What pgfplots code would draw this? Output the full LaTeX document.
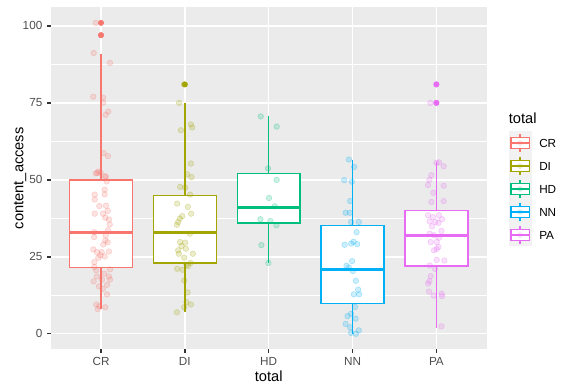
\documentclass[border=0pt]{standalone}
\usepackage{pgfplots}
\pgfplotsset{compat=1.18}
\usepackage{fontspec}
\setmainfont{Liberation Sans}
\definecolor{cCR}{HTML}{F8766D}
\definecolor{cDI}{HTML}{A3A500}
\definecolor{cHD}{HTML}{00BF7D}
\definecolor{cNN}{HTML}{00B0F6}
\definecolor{cPA}{HTML}{E76BF3}
\definecolor{panelbg}{HTML}{EBEBEB}
\definecolor{keybg}{HTML}{F2F2F2}
\definecolor{tickgray}{HTML}{4D4D4D}
\definecolor{tickmark}{HTML}{333333}
\pgfplotsset{
  jit/.style={only marks, mark=*, mark size=2.1pt, forget plot,
    mark options={fill=#1, fill opacity=0.2, draw=#1, draw opacity=0.3, line width=0.4pt}},
  bx/.style={draw=#1, fill=white, line width=1.07pt, forget plot},
  wh/.style={draw=#1, line width=1.07pt, forget plot},
  md/.style={draw=#1, line width=2.13pt, forget plot},
  outl/.style={only marks, mark=*, mark size=2pt, forget plot, mark options={fill=#1, draw=#1}},
}
\begin{document}
\begin{tikzpicture}[x=0.75pt, y=0.75pt]
\path[use as bounding box] (0,0) rectangle (571,392);
\begin{axis}[
  at={(38.025pt,32.025pt)}, anchor=south west, scale only axis,
  width=327pt, height=256.5pt,
  xmin=0.4, xmax=5.6, ymin=-5.05, ymax=106.05,
  axis background/.style={fill=panelbg},
  axis line style={draw=none},
  xtick={1,2,3,4,5}, xticklabels={CR,DI,HD,NN,PA},
  ytick={0,25,50,75,100}, minor ytick={12.5,37.5,62.5,87.5},
  grid=both,
  major grid style={white, line width=1.07pt},
  minor grid style={white, line width=0.53pt},
  tick align=outside, major tick length=2.75pt, minor tick length=0pt,
  tick style={tickmark, line width=1.07pt},
  tick pos=left,
  ticklabel style={font=\fontsize{8.8}{10}\selectfont, text=tickgray},
  /pgf/number format/assume math mode=true,
]
% ---- boxplots ----
% CR
\addplot[wh=cCR] coordinates {(1,8) (1,21.5)};
\addplot[wh=cCR] coordinates {(1,50) (1,91)};
\addplot[bx=cCR] coordinates {(0.625,21.5) (1.375,21.5) (1.375,50) (0.625,50)} -- cycle;
\addplot[md=cCR] coordinates {(0.625,33) (1.375,33)};
\addplot[outl=cCR] coordinates {(1,101) (1,97)};
% DI
\addplot[wh=cDI] coordinates {(2,7) (2,23)};
\addplot[wh=cDI] coordinates {(2,45) (2,75)};
\addplot[bx=cDI] coordinates {(1.625,23) (2.375,23) (2.375,45) (1.625,45)} -- cycle;
\addplot[md=cDI] coordinates {(1.625,33) (2.375,33)};
\addplot[outl=cDI] coordinates {(2,81)};
% HD
\addplot[wh=cHD] coordinates {(3,23) (3,36)};
\addplot[wh=cHD] coordinates {(3,52) (3,70.7)};
\addplot[bx=cHD] coordinates {(2.625,36) (3.375,36) (3.375,52) (2.625,52)} -- cycle;
\addplot[md=cHD] coordinates {(2.625,41) (3.375,41)};
% NN
\addplot[wh=cNN] coordinates {(4,0) (4,9.75)};
\addplot[wh=cNN] coordinates {(4,35.2) (4,56.6)};
\addplot[bx=cNN] coordinates {(3.625,9.75) (4.375,9.75) (4.375,35.2) (3.625,35.2)} -- cycle;
\addplot[md=cNN] coordinates {(3.625,21) (4.375,21)};
% PA
\addplot[wh=cPA] coordinates {(5,2) (5,22)};
\addplot[wh=cPA] coordinates {(5,40) (5,55.8)};
\addplot[bx=cPA] coordinates {(4.625,22) (5.375,22) (5.375,40) (4.625,40)} -- cycle;
\addplot[md=cPA] coordinates {(4.625,32) (5.375,32)};
\addplot[outl=cPA] coordinates {(5,81) (5,75)};
% ---- jittered points ----
\addplot[jit=cCR] coordinates {
(0.937,101) (1.0,97) (0.913,91.2) (1.107,88) (0.908,77) (1.024,76.7) (1.027,75.1)
(1.087,72.2) (1.056,71.1) (1.032,58.7) (1.083,57.7) (0.968,52.7) (0.937,52.1)
(0.996,52.3) (1.051,51.2) (0.956,52.2) (1.056,50.9) (1.068,49.5) (0.925,45.2)
(0.925,43.6) (1.044,45.3) (1.044,46.8) (0.980,41.5) (1.060,41.6) (0.925,39)
(1.024,39) (1.080,39.9) (1.095,37.1) (1.051,37.7) (1.104,35.5) (1.083,33.6)
(0.920,33) (0.917,31.4) (1.056,31.9) (1.051,30.3) (1.080,29.7) (1.027,29)
(1.095,26.7) (0.908,27.4) (0.952,26.5) (1.008,26.5) (0.992,25.5) (1.044,25.1)
(0.968,24.7) (0.920,23.3) (0.920,21.7) (0.944,20.6) (1.107,20.9) (1.039,19.5)
(0.952,18.6) (1.095,18.6) (1.107,17.6) (0.913,17) (1.012,17.6) (0.976,15.4)
(1.072,15.9) (1.020,14.6) (1.072,12.8) (0.944,9.5) (1.051,8.6) (0.961,8) (0.980,8.9)
};
\addplot[jit=cDI] coordinates {
(1.99,81) (1.932,75) (2.072,68) (1.952,66.1) (2.087,67) (2.072,55.3) (2.027,51.8)
(2.080,50.9) (1.944,47.7) (2.004,47.5) (2.063,45.2) (1.908,42.3) (2.036,41.2)
(2.075,39) (1.968,38.2) (1.940,37.4) (1.920,36.3) (1.905,35.4) (2.060,32.5)
(1.944,29.8) (2.004,29.6) (1.961,28.5) (1.920,27.1) (2.012,27.6) (2.095,26)
(1.928,26) (1.992,24.7) (2.068,23) (2.020,22.4) (1.908,21.1) (1.973,20.8)
(2.039,22) (1.992,17.3) (2.032,13.4) (2.020,10.3) (2.072,9.5) (1.992,8.6) (1.905,7)
};
\addplot[jit=cHD] coordinates {
(2.905,70.6) (3.095,67.3) (2.992,53.7) (3.095,50) (3.004,44.1) (3.072,41.4)
(2.901,37.2) (3.020,36.6) (3.092,35.2) (2.913,28.8) (2.996,23)
};
\addplot[jit=cNN] coordinates {
(3.956,56.6) (4.019,54.2) (3.900,49.9) (3.992,49.4) (3.971,43.1) (3.917,39.3)
(3.968,39.3) (3.983,36.3) (4.075,36.3) (4.048,33) (3.905,28.9) (3.983,29.3)
(4.012,29.9) (4.055,29.1) (3.995,23.6) (3.928,22.1) (3.956,21.5) (4.004,20.4)
(4.039,17.2) (4.067,14.3) (4.016,12.8) (4.079,12.8) (4.031,8.7) (3.983,6.5)
(3.940,5.7) (4.036,4.9) (3.917,3.2) (3.971,2.1) (4.075,1.1) (3.983,0.3) (4.039,0)
};
\addplot[jit=cPA] coordinates {
(5.0,81) (4.928,75) (5.0,75) (5.000,55.5) (5.031,55.7) (5.087,54.4) (4.940,51.5)
(4.917,50) (4.900,48.3) (5.087,48.1) (4.964,45.8) (4.940,42.8) (5.087,43.1)
(4.900,38.5) (4.959,37.9) (5.031,38.5) (5.067,37.2) (4.920,36.5) (4.988,36.3)
(5.024,36) (4.948,34.9) (5.060,33.4) (4.920,32.5) (4.971,32) (5.031,31.2)
(4.932,29.8) (5.004,29.8) (5.024,28.2) (4.971,27.1) (5.004,27.5) (4.920,22.2)
(5.004,24) (5.095,23.8) (4.983,21.1) (4.932,18.7) (4.917,17.1) (4.900,16.3)
(4.912,13.7) (4.968,12.4) (5.063,13) (5.067,12.2) (5.060,2.4)
};
\end{axis}
% axis titles
\node[anchor=base, font=\fontsize{11}{13}\selectfont] at (268.7,{392-381.5}) {total};
\node[rotate=90, anchor=base, font=\fontsize{11}{13}\selectfont] at (23.3,{392-178.3}) {content\_access};
% legend
\node[anchor=west, inner sep=0pt, font=\fontsize{11}{13}\selectfont] at (508.6,{392-118}) {total};
\foreach \nm/\cl/\cy in {CR/cCR/143, DI/cDI/166, HD/cHD/189, NN/cNN/212, PA/cPA/235} {
  \pgfmathsetmacro{\Y}{392-\cy}
  \fill[keybg] (508.6,\Y-11.5) rectangle (531.6,\Y+11.5);
  \draw[\cl, line width=1.07pt] (520.1,\Y-9.2) -- (520.1,\Y-5.75);
  \draw[\cl, line width=1.07pt] (520.1,\Y+5.75) -- (520.1,\Y+9.2);
  \draw[\cl, fill=white, line width=1.07pt] (510.9,\Y-5.75) rectangle (529.3,\Y+5.75);
  \draw[\cl, line width=1.07pt] (510.9,\Y) -- (529.3,\Y);
  \fill[\cl, fill opacity=0.2] (520.1,\Y) circle (2.1pt);
  \node[anchor=west, inner sep=0pt, font=\fontsize{8.8}{10}\selectfont] at (539,\Y) {\nm};
}
\end{tikzpicture}
\end{document}
